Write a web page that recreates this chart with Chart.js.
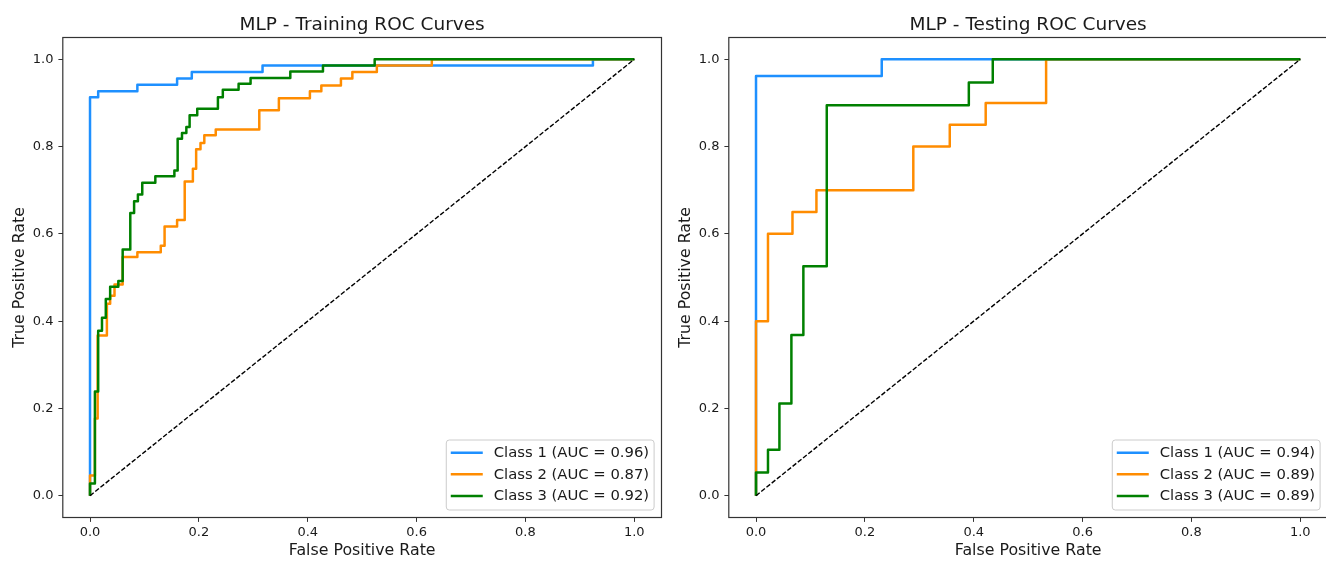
<!DOCTYPE html>
<html>
<head>
<meta charset="utf-8">
<title>MLP ROC Curves</title>
<script src="https://cdn.jsdelivr.net/npm/chart.js@4.4.1/dist/chart.umd.min.js"></script>
<style>
  html, body { margin: 0; padding: 0; background: #fff; overflow: hidden; }
  .panel { position: absolute; top: 0; }
</style>
</head>
<body>
<canvas id="trainChart" class="panel" width="672" height="561" style="left:0"></canvas>
<canvas id="testChart" class="panel" width="672" height="561" style="left:666px"></canvas>
<script>
// ROC points per class (false positive rate / true positive rate), one entry per step
const trainFpr1 = [0, 0, 0.015, 0.087, 0.160, 0.187, 0.317, 0.924, 1];
const trainTpr1 = [0, 0.913, 0.927, 0.942, 0.956, 0.971, 0.986, 1, 1];
const trainFpr2 = [0, 0, 0.009, 0.014, 0.031, 0.037, 0.045, 0.060, 0.087, 0.130, 0.137, 0.160, 0.174, 0.189,
                   0.195, 0.203, 0.210, 0.231, 0.311, 0.347, 0.404, 0.425, 0.461, 0.482, 0.527, 0.628, 1];
const trainTpr2 = [0, 0.046, 0.177, 0.367, 0.440, 0.458, 0.484, 0.547, 0.558, 0.573, 0.617, 0.632, 0.720, 0.749,
                   0.794, 0.808, 0.826, 0.839, 0.883, 0.911, 0.927, 0.940, 0.956, 0.971, 0.986, 1, 1];
const trainFpr3 = [0, 0, 0.009, 0.015, 0.022, 0.029, 0.037, 0.052, 0.060, 0.074, 0.081, 0.088, 0.096, 0.120,
                   0.155, 0.161, 0.169, 0.177, 0.183, 0.197, 0.235, 0.244, 0.273, 0.295, 0.368, 0.428, 0.523, 1];
const trainTpr3 = [0, 0.028, 0.239, 0.378, 0.408, 0.451, 0.479, 0.492, 0.564, 0.648, 0.675, 0.690, 0.717, 0.732,
                   0.745, 0.818, 0.831, 0.845, 0.872, 0.887, 0.913, 0.930, 0.944, 0.957, 0.972, 0.986, 1, 1];

const testFpr1 = [0, 0, 0.231, 1];
const testTpr1 = [0, 0.962, 1, 1];
const testFpr2 = [0, 0, 0.022, 0.067, 0.111, 0.289, 0.356, 0.422, 0.533, 1];
const testTpr2 = [0, 0.40, 0.60, 0.65, 0.70, 0.80, 0.85, 0.90, 1, 1];
const testFpr3 = [0, 0, 0.022, 0.043, 0.065, 0.087, 0.130, 0.391, 0.435, 1];
const testTpr3 = [0, 0.053, 0.105, 0.211, 0.368, 0.526, 0.895, 0.947, 1, 1];

const classNames = ['Class 1', 'Class 2', 'Class 3'];
const trainAuc = [0.96, 0.87, 0.92];
const testAuc = [0.94, 0.89, 0.89];
const classColors = ['#1e90ff', '#ff8c00', '#008000'];
const tickValues = [0, 0.2, 0.4, 0.6, 0.8, 1.0];

const FONT = '"DejaVu Sans", "Liberation Sans", sans-serif';
const TEXT = '#1a1a1a';
const AXIS = '#333333';

function toPoints(fpr, tpr) {
    return fpr.map((x, i) => ({ x: x, y: tpr[i] }));
}

// Frame, title and legend drawn the way matplotlib lays them out
const panelDecor = {
    id: 'panelDecor',
    afterDatasetsDraw: function (chart, args, opts) {
        const ctx = chart.ctx;
        const a = chart.chartArea;
        ctx.save();

        ctx.strokeStyle = AXIS;
        ctx.lineWidth = 1.2;
        ctx.strokeRect(a.left, a.top, a.right - a.left, a.bottom - a.top);

        ctx.fillStyle = TEXT;
        ctx.font = '18.5px ' + FONT;
        ctx.textAlign = 'center';
        ctx.textBaseline = 'alphabetic';
        ctx.fillText(opts.title, (a.left + a.right) / 2, a.top - 8);

        // legend box in the lower right corner
        const rows = chart.data.datasets.filter(ds => ds.inLegend);
        const fs = 14.8, rowH = 21.6;
        ctx.font = fs + 'px ' + FONT;
        const textW = Math.max.apply(null, rows.map(ds => ctx.measureText(ds.label).width));
        const boxW = 4.5 + 32 + 11 + textW + 5;
        const boxH = rows.length * rowH + 5.2;
        const bx = a.right - 7.4 - boxW;
        const by = a.bottom - 7.5 - boxH;

        ctx.beginPath();
        ctx.roundRect(bx, by, boxW, boxH, 3);
        ctx.fillStyle = 'rgba(255,255,255,0.8)';
        ctx.fill();
        ctx.strokeStyle = '#cccccc';
        ctx.lineWidth = 1;
        ctx.stroke();

        ctx.textAlign = 'left';
        ctx.textBaseline = 'middle';
        rows.forEach((ds, i) => {
            const cy = by + 12.7 + i * rowH;
            ctx.strokeStyle = ds.borderColor;
            ctx.lineWidth = ds.borderWidth;
            ctx.beginPath();
            ctx.moveTo(bx + 4.5, cy);
            ctx.lineTo(bx + 36.5, cy);
            ctx.stroke();
            ctx.fillStyle = TEXT;
            ctx.fillText(ds.label, bx + 47.5, cy + 0.5);
        });

        ctx.restore();
    }
};

function axisOptions(title, size, titlePad) {
    return {
        type: 'linear',
        min: -0.05,
        max: 1.05,
        afterBuildTicks: function (scale) {
            scale.ticks = tickValues.map(v => ({ value: v }));
        },
        afterFit: function (scale) {
            if (scale.isHorizontal()) {
                scale.height = size;
            } else {
                scale.width = size;
            }
        },
        grid: {
            drawOnChartArea: false,
            drawTicks: true,
            tickLength: 4.4,
            color: AXIS,
            lineWidth: 1
        },
        border: { display: false },
        ticks: {
            color: TEXT,
            font: { family: FONT, size: 13 },
            padding: title === 'True Positive Rate' ? 5 : 3.3,
            maxRotation: 0,
            callback: function (value) {
                return value.toFixed(1);
            }
        },
        title: {
            display: true,
            text: title,
            color: TEXT,
            font: { family: FONT, size: 15.8 },
            padding: titlePad
        }
    };
}

function buildChart(canvasId, title, curves, auc) {
    const datasets = curves.map((c, i) => ({
        label: classNames[i] + ' (AUC = ' + auc[i].toFixed(2) + ')',
        data: toPoints(c[0], c[1]),
        borderColor: classColors[i],
        borderWidth: 2.5,
        // horizontal run first, then the rise up to the next point
        stepped: 'before',
        pointRadius: 0,
        fill: false,
        borderJoinStyle: 'round',
        inLegend: true,
        order: 3 - i
    }));

    // chance line
    datasets.push({
        label: 'chance',
        data: toPoints([0, 1], [0, 1]),
        borderColor: '#000000',
        borderWidth: 1.4,
        borderDash: [4.7, 2],
        pointRadius: 0,
        fill: false,
        inLegend: false,
        order: 0
    });

    const ctx = document.getElementById(canvasId).getContext('2d');
    return new Chart(ctx, {
        type: 'line',
        data: { datasets: datasets },
        options: {
            responsive: false,
            animation: false,
            events: [],
            layout: { padding: { top: 37.5, right: 10.5, bottom: 0, left: 0 } },
            scales: {
                x: axisOptions('False Positive Rate', 43.5, { top: 0, bottom: 0.8 }),
                y: axisOptions('True Positive Rate', 62.8, { top: 10.4, bottom: 0 })
            },
            plugins: {
                legend: { display: false },
                tooltip: { enabled: false },
                title: { display: false },
                panelDecor: { title: title }
            }
        },
        plugins: [panelDecor]
    });
}

buildChart('trainChart', 'MLP - Training ROC Curves',
    [[trainFpr1, trainTpr1], [trainFpr2, trainTpr2], [trainFpr3, trainTpr3]], trainAuc);
buildChart('testChart', 'MLP - Testing ROC Curves',
    [[testFpr1, testTpr1], [testFpr2, testTpr2], [testFpr3, testTpr3]], testAuc);
</script>
</body>
</html>
